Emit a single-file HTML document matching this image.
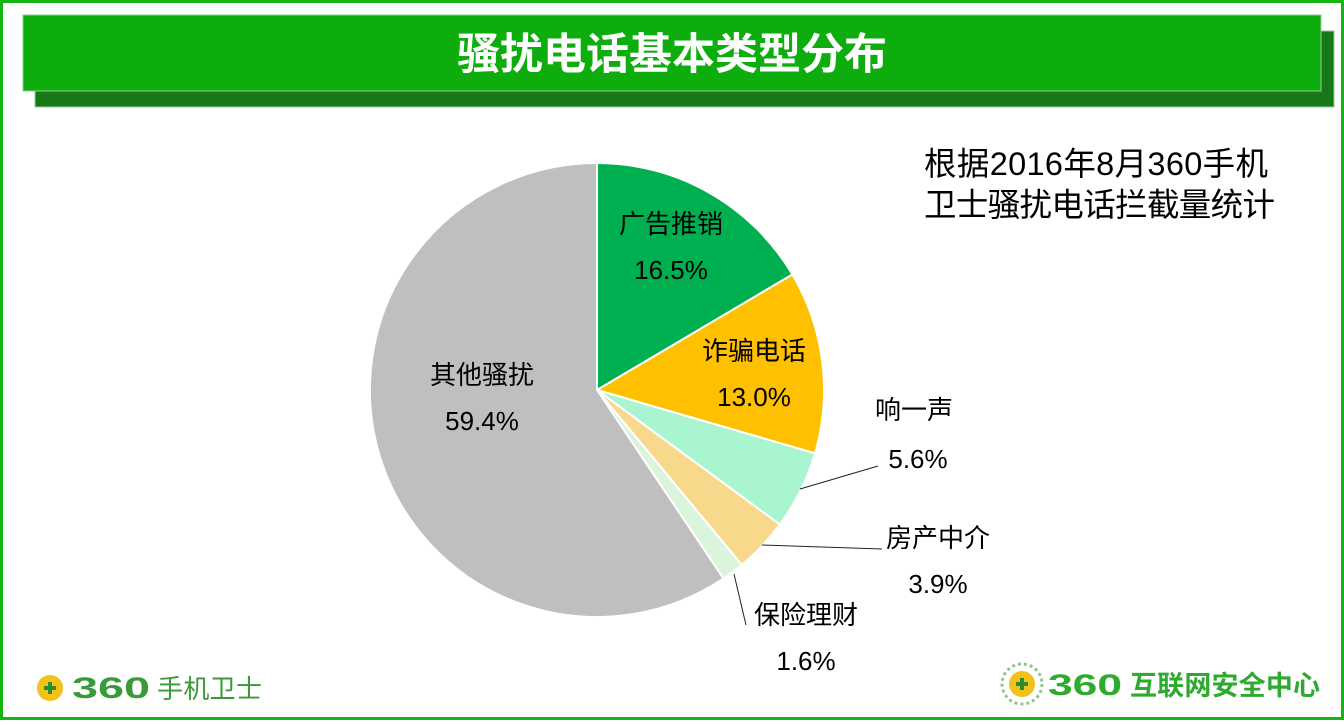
<!DOCTYPE html>
<html><head><meta charset="utf-8"><style>
body{margin:0;width:1344px;height:720px;overflow:hidden;background:#fff;font-family:"Liberation Sans","Noto Sans CJK SC",sans-serif}
</style></head><body>
<svg width="1344" height="720" xmlns="http://www.w3.org/2000/svg" font-family="Liberation Sans, Noto Sans CJK SC, sans-serif">
<rect x="1.5" y="1.5" width="1341" height="717" fill="#fff" stroke="#14b414" stroke-width="3"/>
<rect x="35" y="31" width="1299" height="76" fill="#187818" stroke="#8fd08f" stroke-width="1"/>
<rect x="23" y="15" width="1298" height="76" fill="#0cad0c" stroke="#8fd08f" stroke-width="1"/>
<text x="672" y="69" text-anchor="middle" font-size="43" font-weight="bold" fill="#fff">骚扰电话基本类型分布</text>
<text x="924" y="175" font-size="32.5" fill="#000" textLength="344">根据2016年8月360手机</text>
<text x="924" y="216" font-size="32.5" fill="#000" textLength="351">卫士骚扰电话拦截量统计</text>
<g stroke="#fff" stroke-width="2">
<path d="M597,390 L597,163 A227,227 0 0 1 792.4,274.5 Z" fill="#00b050"/>
<path d="M597,390 L792.4,274.5 A227,227 0 0 1 815,453.3 Z" fill="#ffc000"/>
<path d="M597,390 L815,453.3 A227,227 0 0 1 779.8,524.5 Z" fill="#a9f5cf"/>
<path d="M597,390 L779.8,524.5 A227,227 0 0 1 741.7,564.9 Z" fill="#f8d98c"/>
<path d="M597,390 L741.7,564.9 A227,227 0 0 1 723.4,578.5 Z" fill="#daf5dc"/>
<path d="M597,390 L723.4,578.5 A227,227 0 1 1 597,163 Z" fill="#bfbfbf"/>
</g>
<g stroke="#222" stroke-width="1" fill="none">
<polyline points="800,489 878,466"/>
<polyline points="762,545 882,549"/>
<polyline points="734,574 746,625"/>
</g>
<g font-size="26" fill="#000" text-anchor="middle">
<text x="671" y="233">广告推销</text><text x="671" y="279">16.5%</text>
<text x="754" y="360">诈骗电话</text><text x="754" y="406">13.0%</text>
<text x="482" y="384">其他骚扰</text><text x="482" y="430">59.4%</text>
<text x="914" y="419">响一声</text><text x="918" y="468">5.6%</text>
<text x="938" y="547">房产中介</text><text x="938" y="593">3.9%</text>
<text x="806" y="624">保险理财</text><text x="806" y="670">1.6%</text>
</g>
<circle cx="50" cy="688" r="13" fill="#f2c21a"/><path d="M44,688h12M50,682v12" stroke="#2e8b2e" stroke-width="4"/>
<text x="72" y="698" font-size="30" font-weight="bold" fill="#3a9a3a" textLength="78" lengthAdjust="spacingAndGlyphs">360</text>
<text x="157" y="698" font-size="26" fill="#3a9a3a" textLength="105">手机卫士</text>
<circle cx="1022" cy="684" r="13" fill="#f2c21a"/><path d="M1016,684h12M1022,678v12" stroke="#2e8b2e" stroke-width="4"/>
<circle cx="1022" cy="684" r="20" fill="none" stroke="#8cc88c" stroke-width="3" stroke-dasharray="3 3"/>
<text x="1048" y="695" font-size="30" font-weight="bold" fill="#2eaa2e" textLength="74" lengthAdjust="spacingAndGlyphs">360</text>
<text x="1130" y="695" font-size="27" font-weight="bold" fill="#2eaa2e" textLength="190">互联网安全中心</text>
</svg>
</body></html>
